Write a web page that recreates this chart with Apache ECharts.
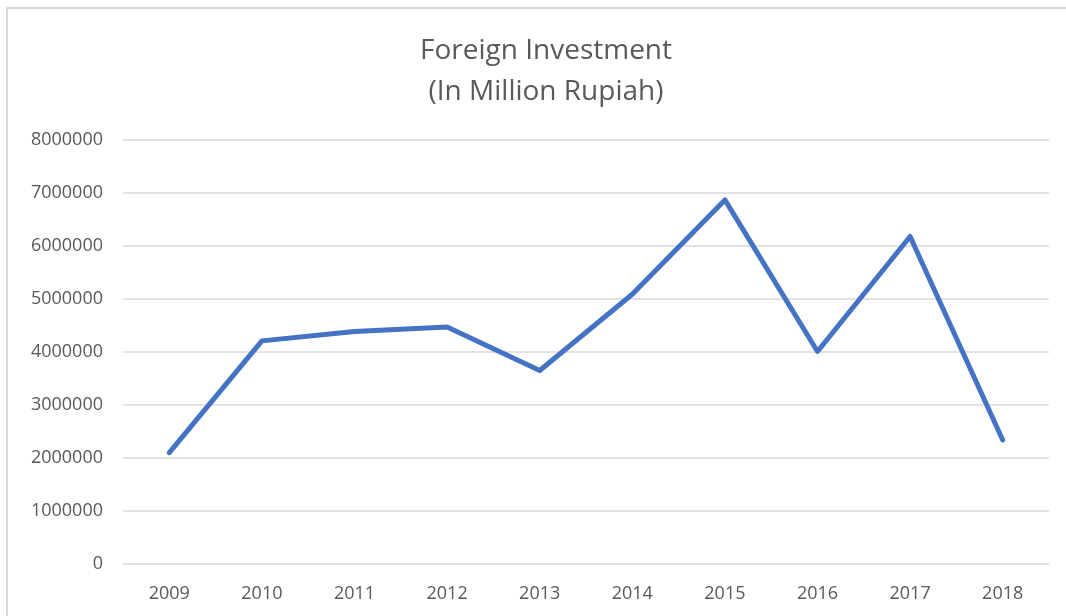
<!DOCTYPE html>
<html>
<head>
<meta charset="utf-8">
<script src="https://cdn.jsdelivr.net/npm/echarts@6/dist/echarts.min.js"></script>
<style>
    html, body { margin: 0; padding: 0; background: #fff; }
    #chart { width: 1066px; height: 616px; }
</style>
</head>
<body>
<div id="chart"></div>
<script>
// 外资数据
const years = ['2009', '2010', '2011', '2012', '2013', '2014', '2015', '2016', '2017', '2018'];
const investment = [2100000, 4210000, 4385000, 4470000, 3650000, 5090000, 6870000, 4010000, 6180000, 2340000];
const yTicks = { min: 0, max: 8000000, interval: 1000000 };

const echart = echarts.init(document.getElementById('chart'));
const textColor = '#595959';

const option = {
    animation: false,
    title: {
        text: 'Foreign Investment\n(In Million Rupiah)',
        left: 541,
        top: 26,
        textAlign: 'center',
        textStyle: {
            fontFamily: 'Open Sans',
            fontWeight: 'normal',
            fontSize: 28,
            lineHeight: 41,
            color: textColor
        }
    },
    graphic: [{
        type: 'rect',
        shape: { x: 7, y: 8, width: 1080, height: 640 },
        style: { fill: 'none', stroke: '#d9d9d9', lineWidth: 2 },
        silent: true
    }],
    grid: {
        left: 123,
        right: 17,
        top: 140,
        bottom: 52,
        containLabel: false
    },
    xAxis: {
        type: 'category',
        data: years,
        boundaryGap: true,
        axisLine: { show: false },
        axisTick: { show: false },
        axisLabel: {
            color: textColor,
            fontFamily: 'Open Sans',
            fontSize: 18,
            margin: 21
        }
    },
    yAxis: {
        type: 'value',
        min: yTicks.min,
        max: yTicks.max,
        interval: yTicks.interval,
        axisLine: { show: false },
        axisTick: { show: false },
        axisLabel: {
            color: textColor,
            fontFamily: 'Open Sans',
            fontSize: 18,
            margin: 20,
            formatter: v => String(v)
        },
        splitLine: {
            show: true,
            lineStyle: { color: '#d9d9d9', width: 1.5 }
        }
    },
    series: [{
        type: 'line',
        data: investment,
        showSymbol: false,
        lineStyle: { color: '#4472C4', width: 5, cap: 'round', join: 'round' }
    }]
};
echart.setOption(option);
</script>
</body>
</html>
